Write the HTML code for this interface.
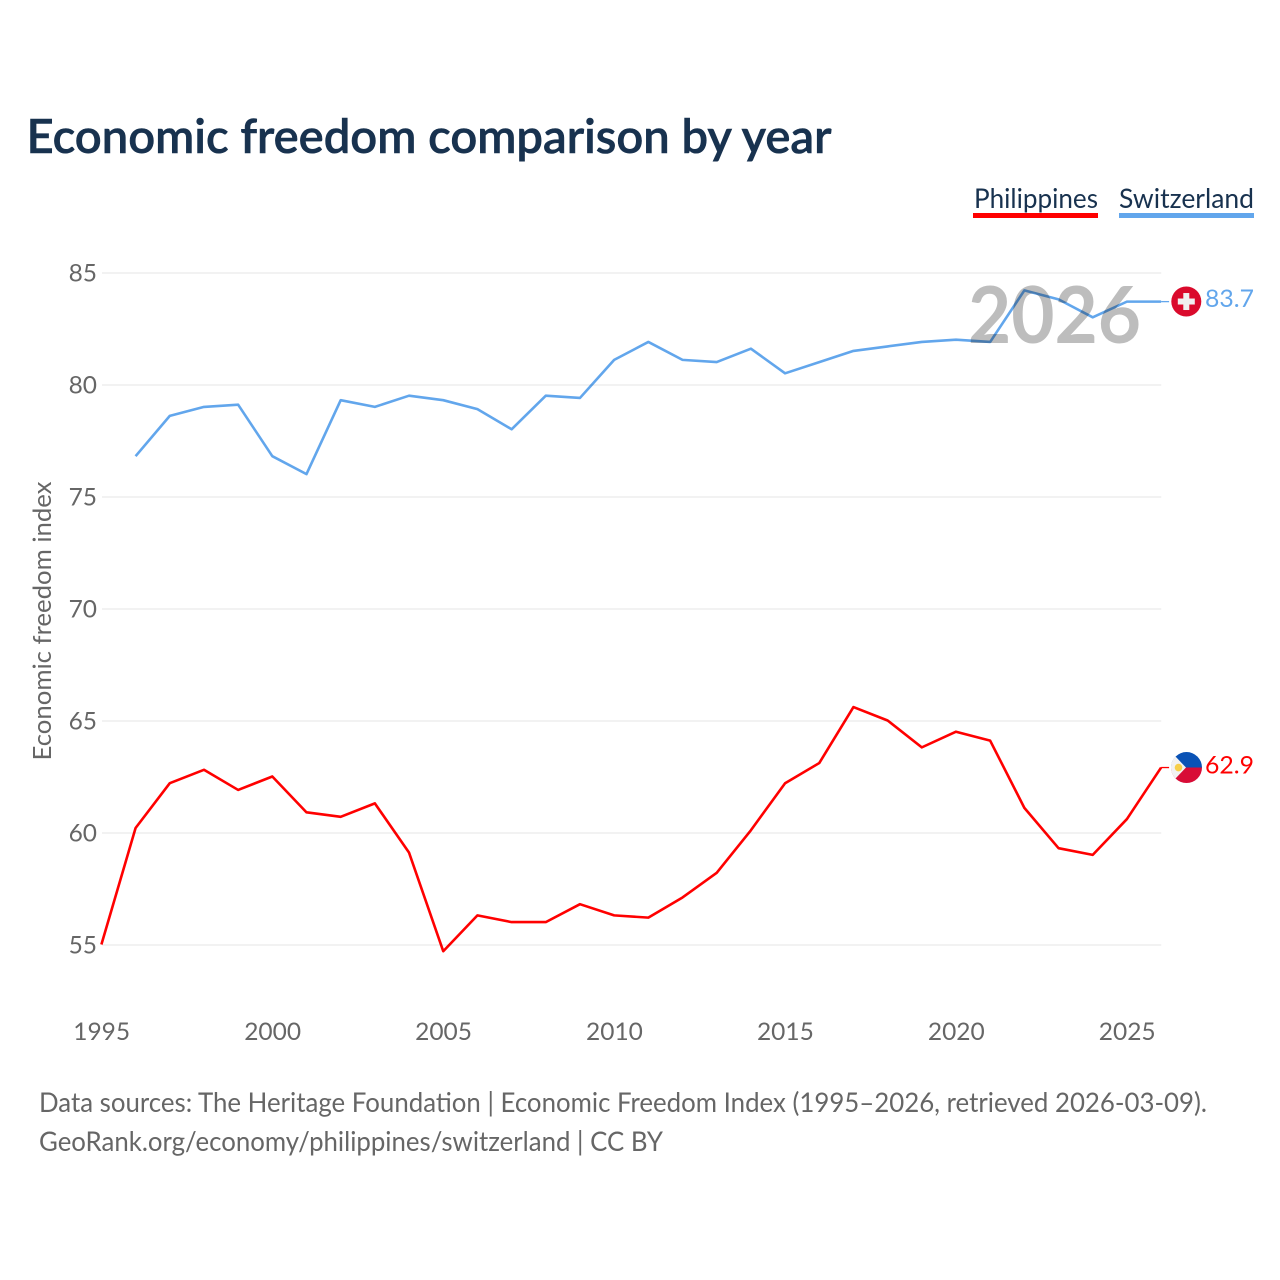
<!DOCTYPE html>
<html lang="en">
<head>
<meta charset="utf-8">
<title>Economic freedom comparison by year</title>
<style>
html,body{margin:0;padding:0;background:#fff;}
svg{display:block;font-family:"Lato","Carlito","Liberation Sans",sans-serif;}
</style>
</head>
<body>
<svg id="chart" xmlns="http://www.w3.org/2000/svg" width="1280" height="1280" viewBox="0 0 1280 1280">
  <rect width="1280" height="1280" fill="#ffffff"/>
  <text x="26.5" y="153" font-size="47" font-weight="600" fill="#18324f" stroke="#18324f" stroke-width="0.6" textLength="805" lengthAdjust="spacingAndGlyphs">Economic freedom comparison by year</text>
  <g id="legend">
    <g>
      <text x="974" y="208" font-size="27" fill="#18324f" textLength="124" lengthAdjust="spacingAndGlyphs">Philippines</text>
      <rect x="973" y="213" width="125" height="5" fill="#ff0000"/>
    </g>
    <g>
      <text x="1119" y="208" font-size="27" fill="#18324f" textLength="135" lengthAdjust="spacingAndGlyphs">Switzerland</text>
      <rect x="1119" y="213" width="135" height="5" fill="#62a6ec"/>
    </g>
  </g>
  <g id="grid"></g>
  <g id="yticks"></g>
  <g id="xticks"></g>
  <text transform="translate(51,621) rotate(-90)" text-anchor="middle" font-size="25" fill="#666666" textLength="279" lengthAdjust="spacingAndGlyphs">Economic freedom index</text>
  <text x="968" y="343" font-size="79" font-weight="700" fill="#bdbdbd" textLength="173" lengthAdjust="spacingAndGlyphs">2026</text>
  <g id="series" transform="translate(-0.6,-0.5)" style="mix-blend-mode:multiply"></g>
  <g id="connectors" transform="translate(-0.6,-0.5)"></g>
  <g id="ends"></g>
  <g font-size="27" fill="#666666">
    <text x="39" y="1112" textLength="1168" lengthAdjust="spacingAndGlyphs">Data sources: The Heritage Foundation | Economic Freedom Index (1995–2026, retrieved 2026-03-09).</text>
    <text x="39" y="1151" textLength="624" lengthAdjust="spacingAndGlyphs">GeoRank.org/economy/philippines/switzerland | CC BY</text>
  </g>
</svg>
<script>
const years = [1995,1996,1997,1998,1999,2000,2001,2002,2003,2004,2005,2006,2007,2008,2009,2010,2011,2012,2013,2014,2015,2016,2017,2018,2019,2020,2021,2022,2023,2024,2025,2026];
const philippines = [55,60.2,62.2,62.8,61.9,62.5,60.9,60.7,61.3,59.1,54.7,56.3,56,56,56.8,56.3,56.2,57.1,58.2,60.1,62.2,63.1,65.6,65,63.8,64.5,64.1,61.1,59.3,59,60.6,62.9];
const switzerland = [null,76.8,78.6,79,79.1,76.8,76,79.3,79,79.5,79.3,78.9,78,79.5,79.4,81.1,81.9,81.1,81,81.6,80.5,81,81.5,81.7,81.9,82,81.9,84.2,83.8,83,83.7,83.7];
const yTickValues = [55,60,65,70,75,80,85];
const xTickValues = [1995,2000,2005,2010,2015,2020,2025];

const NS = 'http://www.w3.org/2000/svg';
function x(year){ return 102 + (year - 1995) * (1161.7 - 102) / 31; }
function y(value){ return 945 - (value - 55) * (945 - 273) / 30; }
function make(tag, attrs, parent){
  const el = document.createElementNS(NS, tag);
  for (const k in attrs) el.setAttribute(k, attrs[k]);
  parent.appendChild(el);
  return el;
}
const grid = document.getElementById('grid');
const yticks = document.getElementById('yticks');
const xticks = document.getElementById('xticks');
const seriesGroup = document.getElementById('series');
const connectors = document.getElementById('connectors');
const ends = document.getElementById('ends');

yTickValues.forEach(function(v){
  const line = make('line', {x1:102, x2:1161.2, y1:y(v), y2:y(v), stroke:'#e9e9e9', 'stroke-width':1.3}, grid);
  
  
  const t = make('text', {x:97, y:y(v)+8.5, 'text-anchor':'end', 'font-size':24.5, fill:'#666666'}, yticks);
  
  
  t.textContent = v;
});
xTickValues.forEach(function(v){
  const t = make('text', {x:x(v)-0.3, y:1040, 'text-anchor':'middle', 'font-size':24.5, fill:'#666666'}, xticks);
  
  
  t.textContent = v;
});
function drawSeries(values, color, name){
  let d = '';
  let lastYear = 0, lastValue = 0;
  values.forEach(function(v, i){
    if (v === null) return;
    d += (d ? 'L' : 'M') + x(years[i]).toFixed(2) + ' ' + y(v).toFixed(2);
    lastYear = years[i];
    lastValue = v;
  });
  const path = make('path', {d:d, fill:'none', stroke:color, 'stroke-width':2.6, 'stroke-linejoin':'round'}, seriesGroup);
  
  
  const conn = make('line', {x1:x(lastYear), x2:x(lastYear)+8, y1:y(lastValue), y2:y(lastValue), stroke:color, 'stroke-width':1.3}, connectors);
  
  
  return y(lastValue);
}
const chY = drawSeries(switzerland, '#62a6ec', 'switzerland');
const phY = drawSeries(philippines, '#ff0000', 'philippines');

const chLabel = make('text', {x:1205, y:chY+5, 'font-size':24.5, fill:'#62a6ec', textLength:49, lengthAdjust:'spacingAndGlyphs'}, ends);


chLabel.textContent = switzerland[switzerland.length-1].toFixed(1);
const phLabel = make('text', {x:1205, y:phY+5.3, 'font-size':24.5, fill:'#ff0000', textLength:49, lengthAdjust:'spacingAndGlyphs'}, ends);


phLabel.textContent = philippines[philippines.length-1].toFixed(1);

const chFlag = make('g', {transform:'translate(1186.3,'+(chY-0.6)+')'}, ends);


make('circle', {r:15, fill:'#da0a2c'}, chFlag);
make('rect', {x:-8.5, y:-3, width:17, height:6, fill:'#f0f0f0'}, chFlag);
make('rect', {x:-3, y:-8.5, width:6, height:17, fill:'#f0f0f0'}, chFlag);

const phFlag = make('g', {transform:'translate(1186.5,'+(phY-0.5)+')'}, ends);


make('path', {d:'M-15.5 0A15.5 15.5 0 0 1 15.5 0Z', fill:'#0a52b5'}, phFlag);
make('path', {d:'M-15.5 0A15.5 15.5 0 0 0 15.5 0Z', fill:'#d80c36'}, phFlag);
make('path', {d:'M-11 -11L-0.5 0L-11 11A15.5 15.5 0 0 1 -11 -11Z', fill:'#f2f2f2'}, phFlag);
make('circle', {cx:-8, cy:0, r:3.8, fill:'#f7cf4a'}, phFlag);
</script>
</body>
</html>
